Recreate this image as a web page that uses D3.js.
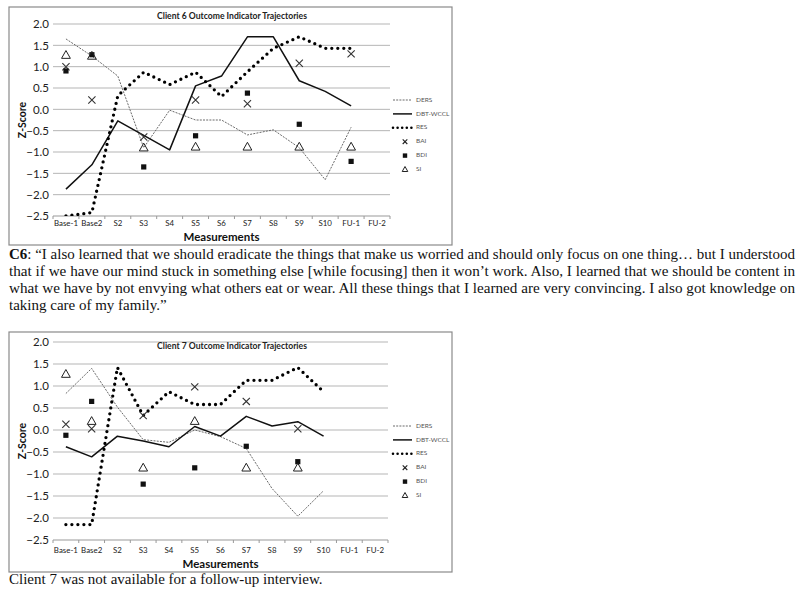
<!DOCTYPE html>
<html><head><meta charset="utf-8">
<script src="https://cdn.jsdelivr.net/npm/d3@7"></script>
<style>body{margin:0;background:#fff}svg{display:block}</style>
</head><body>
<svg id="c" width="800" height="598"></svg>
<script>
const categories = ["Base-1","Base2","S2","S3","S4","S5","S6","S7","S8","S9","S10","FU-1","FU-2"];
const yTicks = [2.0,1.5,1.0,0.5,0.0,-0.5,-1.0,-1.5,-2.0,-2.5];
const seriesNames = ["DERS","DBT-WCCL","RES","BAI","BDI","SI"];

const c6_ders = [1.65,1.25,0.78,-0.9,-0.02,-0.25,-0.25,-0.6,-0.48,-0.9,-1.65,-0.42,null];
const c6_dbt  = [-1.87,-1.3,-0.27,-0.61,-0.95,0.55,0.78,1.7,1.7,0.67,0.42,0.08,null];
const c6_res  = [-2.5,-2.42,0.32,0.87,0.58,0.87,0.3,0.88,1.43,1.7,1.43,1.43,null];
const c6_bai  = [1.0,0.22,null,-0.65,null,0.22,null,0.13,null,1.08,null,1.3,null];
const c6_bdi  = [0.9,1.28,null,-1.35,null,-0.62,null,0.38,null,-0.35,null,-1.22,null];
const c6_si   = [1.27,1.25,null,-0.9,null,-0.88,null,-0.88,null,-0.88,null,-0.88,null];

const c7_ders = [0.83,1.4,0.52,-0.22,-0.28,0.0,-0.15,-0.42,-1.33,-1.96,-1.38,null,null];
const c7_dbt  = [-0.38,-0.61,-0.14,-0.25,-0.38,0.08,-0.14,0.31,0.09,0.19,-0.14,null,null];
const c7_res  = [-2.15,-2.15,1.42,0.33,0.87,0.58,0.58,1.13,1.13,1.42,0.87,null,null];
const c7_bai  = [0.13,0.03,null,0.33,null,0.98,null,0.65,null,0.03,null,null,null];
const c7_bdi  = [-0.12,0.65,null,-1.23,null,-0.86,null,-0.37,null,-0.72,null,null,null];
const c7_si   = [1.27,0.2,null,-0.86,null,0.2,null,-0.86,null,-0.86,null,null,null];

const titles = ["Client 6 Outcome Indicator Trajectories","Client 7 Outcome Indicator Trajectories"];
const paragraph = [
  "“I also learned that we should eradicate the things that make us worried and should only focus on one thing… but I understood",
  "that if we have our mind stuck in something else [while focusing] then it won’t work. Also, I learned that we should be content in",
  "what we have by not envying what others eat or wear. All these things that I learned are very convincing. I also got knowledge on",
  "taking care of my family.”"
];
const note7 = "Client 7 was not available for a follow-up interview.";

const svg = d3.select("#c");
const sans = "Lato, 'Open Sans', sans-serif";
const serif = "'Liberation Serif', 'Times New Roman', serif";

function drawChart(cfg, data) {
  const g = svg.append("g");
  g.append("rect").attr("x", cfg.bx0).attr("y", cfg.by0)
    .attr("width", cfg.bx1 - cfg.bx0).attr("height", cfg.by1 - cfg.by0)
    .attr("fill", "#fff").attr("stroke", "#8a8a8a").attr("stroke-width", 1.2);

  const x = d3.scaleBand().domain(categories).range([cfg.px0, cfg.px1]);
  const y = d3.scaleLinear().domain([-2.5, 2.0]).range([cfg.py1, cfg.py0]);
  const cx = d => x(d) + x.bandwidth() / 2;

  g.append("g").selectAll("line").data(yTicks).join("line")
    .attr("x1", cfg.px0).attr("x2", cfg.px1)
    .attr("y1", d => y(d)).attr("y2", d => y(d))
    .attr("stroke", d => d === -2.5 ? "#999" : "#b5b5b5").attr("stroke-width", 1);

  const ya = g.append("g").attr("transform", `translate(${cfg.px0},0)`)
    .call(d3.axisLeft(y).tickValues(yTicks).tickFormat(d3.format(".1f")).tickSize(0).tickPadding(4));
  ya.select(".domain").remove();
  ya.selectAll("text").attr("font-family", sans).attr("font-size", 11.5).attr("fill", "#222");

  const xa = g.append("g").attr("transform", `translate(0,${cfg.py1})`)
    .call(d3.axisBottom(x).tickSize(0).tickPadding(cfg.xpad));
  xa.select(".domain").remove();
  xa.selectAll("text").attr("font-family", sans).attr("font-size", 7.9).attr("fill", "#222");
  g.append("g").selectAll("line").data(d3.range(categories.length + 1)).join("line")
    .attr("x1", i => cfg.px0 + i * x.step()).attr("x2", i => cfg.px0 + i * x.step())
    .attr("y1", cfg.py1).attr("y2", cfg.py1 + 3)
    .attr("stroke", "#999").attr("stroke-width", 1);

  g.append("text").attr("x", cfg.tx).attr("y", cfg.ty).attr("text-anchor", "middle")
    .attr("dominant-baseline", "middle")
    .attr("font-family", sans).attr("font-weight", "bold").attr("font-size", 8.6).attr("fill", "#222")
    .text(cfg.title);
  g.append("text").attr("x", (cfg.px0 + cfg.px1) / 2).attr("y", cfg.my).attr("text-anchor", "middle")
    .attr("dominant-baseline", "middle")
    .attr("font-family", sans).attr("font-weight", "bold").attr("font-size", 11.5).attr("fill", "#111")
    .text("Measurements");
  g.append("text").attr("transform", `translate(${cfg.zx},${(cfg.py0 + cfg.py1) / 2}) rotate(-90)`)
    .attr("text-anchor", "middle").attr("dominant-baseline", "middle")
    .attr("font-family", sans).attr("font-weight", "bold").attr("font-size", 10.5).attr("fill", "#111")
    .text("Z-Score");

  const line = d3.line().defined(d => d.v !== null).x(d => cx(d.c)).y(d => y(d.v));
  const pts = arr => arr.map((v, i) => ({c: categories[i], v}));
  const styles = {
    ders: {stroke: "#6a6a6a", w: 1, dash: "2,1.2", cap: "butt"},
    dbt: {stroke: "#111", w: 1.5, dash: null, cap: "butt"},
    res: {stroke: "#000", w: 3.3, dash: "0,6", cap: "round"}
  };
  const clipId = "clip" + cfg.id;
  g.append("clipPath").attr("id", clipId).append("rect")
    .attr("x", cfg.px0).attr("y", cfg.py0 - 5).attr("width", cfg.px1 - cfg.px0).attr("height", cfg.py1 - cfg.py0 + 5);
  [["ders", data.ders], ["dbt", data.dbt], ["res", data.res]].forEach(([k, arr]) => {
    const s = styles[k];
    g.append("path").datum(pts(arr)).attr("d", line)
      .attr("clip-path", k === "res" ? `url(#${clipId})` : null)
      .attr("fill", "none").attr("stroke", s.stroke).attr("stroke-width", s.w)
      .attr("stroke-dasharray", s.dash).attr("stroke-linecap", s.cap).attr("stroke-linejoin", "round");
  });

  const bai = pts(data.bai).filter(d => d.v !== null);
  g.append("g").selectAll("path").data(bai).join("path")
    .attr("d", d => { const X = cx(d.c), Y = y(d.v), r = 3.6;
      return `M${X-r},${Y-r}L${X+r},${Y+r}M${X-r},${Y+r}L${X+r},${Y-r}`; })
    .attr("stroke", "#333").attr("stroke-width", 1.1).attr("fill", "none");
  const bdi = pts(data.bdi).filter(d => d.v !== null);
  g.append("g").selectAll("rect").data(bdi).join("rect")
    .attr("x", d => cx(d.c) - 2.6).attr("y", d => y(d.v) - 2.6)
    .attr("width", 5.2).attr("height", 5.2).attr("fill", "#111");
  const si = pts(data.si).filter(d => d.v !== null);
  g.append("g").selectAll("path").data(si).join("path")
    .attr("d", d => { const X = cx(d.c), Y = y(d.v);
      return `M${X},${Y-4.6}L${X+4.4},${Y+3.2}L${X-4.4},${Y+3.2}Z`; })
    .attr("stroke", "#222").attr("stroke-width", 1).attr("fill", "none");

  const lg = g.append("g");
  seriesNames.forEach((n, i) => {
    const ly = cfg.ly + i * 13.9;
    const lx0 = 393, lx1 = 412, mx = 405;
    if (i < 3) {
      const s = styles[["ders", "dbt", "res"][i]];
      lg.append("line").attr("x1", lx0).attr("x2", lx1).attr("y1", ly).attr("y2", ly)
        .attr("stroke", s.stroke).attr("stroke-width", i === 2 ? 2.6 : s.w)
        .attr("stroke-dasharray", i === 2 ? "0,4.6" : s.dash).attr("stroke-linecap", s.cap);
    } else if (i === 3) {
      lg.append("path").attr("d", `M${mx-2.3},${ly-2.3}L${mx+2.3},${ly+2.3}M${mx-2.3},${ly+2.3}L${mx+2.3},${ly-2.3}`)
        .attr("stroke", "#222").attr("stroke-width", 1.1);
    } else if (i === 4) {
      lg.append("rect").attr("x", mx - 2.2).attr("y", ly - 2.2).attr("width", 4.4).attr("height", 4.4).attr("fill", "#111");
    } else {
      lg.append("path").attr("d", `M${mx},${ly-3}L${mx+2.8},${ly+2}L${mx-2.8},${ly+2}Z`)
        .attr("stroke", "#222").attr("stroke-width", 1).attr("fill", "none");
    }
    lg.append("text").attr("x", 416).attr("y", ly).attr("dominant-baseline", "middle")
      .attr("font-family", sans).attr("font-size", 6.5).attr("fill", "#555").text(n);
  });
}

drawChart({id: 6, bx0: 9, bx1: 452, by0: 7, by1: 245, px0: 53, px1: 390, py0: 24, py1: 216,
  xpad: 4, tx: 232, ty: 17, my: 238, zx: 23, ly: 100, title: titles[0]},
  {ders: c6_ders, dbt: c6_dbt, res: c6_res, bai: c6_bai, bdi: c6_bdi, si: c6_si});
drawChart({id: 7, bx0: 9, bx1: 452, by0: 332, by1: 572, px0: 53, px1: 388, py0: 342, py1: 540,
  xpad: 7, tx: 232, ty: 347, my: 565, zx: 23, ly: 426, title: titles[1]},
  {ders: c7_ders, dbt: c7_dbt, res: c7_res, bai: c7_bai, bdi: c7_bdi, si: c7_si});

const pg = svg.append("g").attr("font-family", serif).attr("font-size", 15).attr("fill", "#111");
paragraph.forEach((t, i) => {
  const tx = pg.append("text").attr("x", 9).attr("y", 259 + i * 17);
  if (i === 0) {
    tx.attr("textLength", 786).attr("lengthAdjust", "spacingAndGlyphs");
    tx.append("tspan").attr("font-weight", "bold").text("C6");
    tx.append("tspan").text(": " + t);
  } else if (i < 3) {
    tx.attr("textLength", 786).attr("lengthAdjust", "spacingAndGlyphs").text(t);
  } else {
    tx.text(t);
  }
});
svg.append("text").attr("x", 9).attr("y", 584).attr("font-family", serif).attr("font-size", 15)
  .attr("fill", "#111").text(note7);
</script>
</body></html>
